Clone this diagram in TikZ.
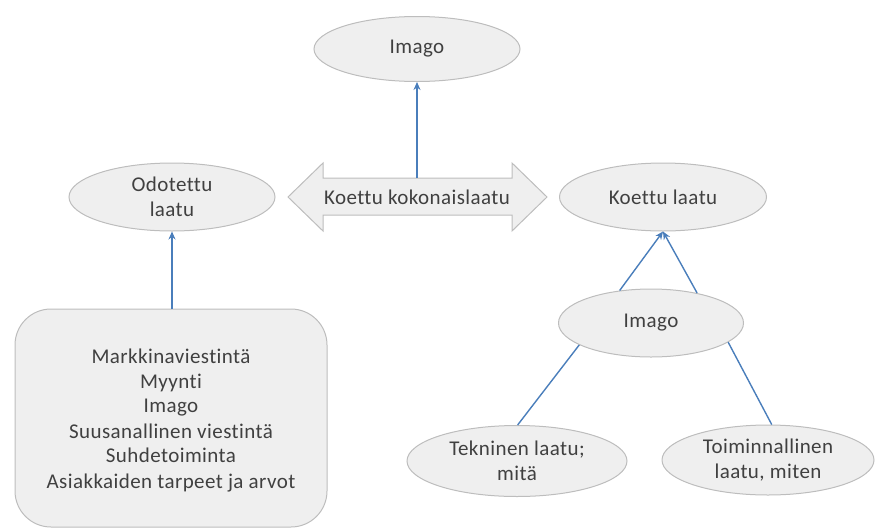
\documentclass[tikz,border=0pt]{standalone}
\usepackage{fontspec}
\setmainfont{Carlito}[LetterSpace=2,Ligatures={NoCommon,TeX}]
\usetikzlibrary{shapes.geometric,arrows.meta}
\definecolor{shfill}{HTML}{EFEFEF}
\definecolor{shdraw}{HTML}{BDBDBD}
\definecolor{arrblue}{HTML}{4A7EBB}
\definecolor{txt}{HTML}{404040}
\tikzset{
  lbl/.style={text=txt,font=\fontsize{21}{25}\selectfont},
  ell/.style={ellipse,draw=shdraw,fill=shfill,line width=1pt,inner sep=0pt,align=center,lbl},
  conn/.style={draw=arrblue,line width=1.4pt},
  arr/.style={conn,-{Stealth[length=8pt,width=7pt]}}
}
\begin{document}
\begin{tikzpicture}[x=1pt,y=-1pt]
\useasboundingbox (0,0) rectangle (878,528);
% ellipses
\node[ell,minimum width=206pt,minimum height=65pt] (imagotop) at (417,49) {Imago};
\node[ell,minimum width=206pt,minimum height=68pt] (odot) at (172,197) {Odotettu\\laatu};
\node[ell,minimum width=207pt,minimum height=68pt] (koettu) at (663,197) {Koettu laatu};
\node[ell,minimum width=185pt,minimum height=68pt] (imagomid) at (651,323) {Imago};
\node[ell,minimum width=220pt,minimum height=71pt] (tek) at (517,461) {Tekninen laatu;\\mitä};
\node[ell,minimum width=212pt,minimum height=70pt] (toim) at (768,460) {Toiminnallinen\\laatu, miten};
% double arrow
\draw[draw=shdraw,fill=shfill,line width=1pt]
  (288,197) -- (323,163) -- (323,178) -- (512,178) -- (512,163) -- (547,197)
  -- (512,231) -- (512,215) -- (323,215) -- (323,231) -- cycle;
\node[lbl,inner sep=0pt] (kok) at (417,197) {Koettu kokonaislaatu};
\coordinate (kokTop) at (417,178);
% rounded rectangle
\draw[draw=shdraw,fill=shfill,line width=1pt,rounded corners=36pt] (15,309) rectangle (327,527);
\node[lbl,align=center,inner sep=0pt] (factors) at (171,420)
  {Markkinaviestintä\\Myynti\\Imago\\Suusanallinen viestintä\\Suhdetoiminta\\Asiakkaiden tarpeet ja arvot};
\coordinate (rectTop) at (172,309);
% connectors
\draw[arr] (kokTop) -- (imagotop);
\draw[arr] (rectTop) -- (odot);
\draw[arr] (imagomid.134) -- (koettu.south);
\draw[arr] (imagomid.33) -- (koettu.south);
\draw[conn] (imagomid.197) -- (tek.89);
\draw[conn] (imagomid.-14) -- (toim.84);
\end{tikzpicture}
\end{document}
